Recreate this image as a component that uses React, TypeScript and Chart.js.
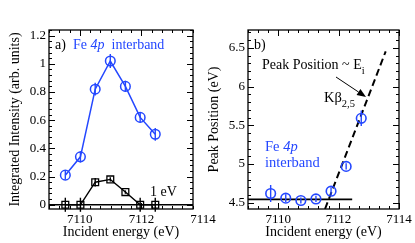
import React, { useEffect, useRef } from 'react';
import { Chart, registerables } from 'chart.js';

Chart.register(...registerables);

const FONT = '"Liberation Serif", "DejaVu Serif", serif';
const BLUE = '#2447ff';

const energyTicks = [7110, 7112, 7114];

// panel a
const intensityEnergy = [7109.53, 7110.02, 7110.5, 7110.99, 7111.48, 7111.96, 7112.45];
const intensityEnergyMax = 7113.675;
const interbandIntensity = [0.21, 0.34, 0.82, 1.02, 0.84, 0.62, 0.5];
const interbandIntensityErr = [0.03, 0.04, 0.045, 0.05, 0.04, 0.035, 0.045];
const oneEvIntensity = [0, 0, 0.16, 0.18, 0.09, 0, 0];
const oneEvIntensityErr = [0.05, 0.05, 0.03, 0.015, 0.012, 0.05, 0.05];
const intensityTicks = [0, 0.2, 0.4, 0.6, 0.8, 1, 1.2];
const zeroLineX = [7109, intensityEnergyMax];
const zeroLineY = [0, 0];

// panel b
const peakEnergy = [7109.75, 7110.25, 7110.75, 7111.25, 7111.75, 7112.25, 7112.75];
const peakPosition = [4.62, 4.56, 4.53, 4.55, 4.65, 4.97, 5.59];
const peakPositionErr = [0.11, 0.05, 0.04, 0.04, 0.05, 0.04, 0.1];
const baselineX = [7109, 7112.45];
const baselineY = [4.545, 4.545];
const dispersionX = [7111.55, 7113.56];
const dispersionY = [4.42, 6.455];
const peakTicks = [4.5, 5, 5.5, 6, 6.5];

const pts = (xs: number[], ys: number[]) => xs.map((x, i) => ({ x, y: ys[i] }));

type Run = { text: string; italic?: boolean; size: number; dy?: number };

function drawRuns(ctx: CanvasRenderingContext2D, runs: Run[], x: number, y: number, color: string) {
  ctx.save();
  ctx.fillStyle = color;
  ctx.textBaseline = 'middle';
  ctx.textAlign = 'left';
  let cx = x;
  for (const r of runs) {
    ctx.font = `${r.italic ? 'italic ' : ''}${r.size}px ${FONT}`;
    ctx.fillText(r.text, cx, y + (r.dy || 0));
    cx += ctx.measureText(r.text).width;
  }
  ctx.restore();
}

type ErrSet = { xs: number[]; ys: number[]; errs: number[]; color: string };

function makeDecor(o: {
  xMajor: number[];
  xMinor: number;
  yMajor: number[];
  yMinor: number;
  errors: ErrSet[];
  extra: (chart: any, ctx: CanvasRenderingContext2D) => void;
}) {
  return {
    id: 'decor',
    afterDatasetsDraw(chart: any) {
      const ctx = chart.ctx as CanvasRenderingContext2D;
      const xs = chart.scales.x;
      const ys = chart.scales.y;
      ctx.save();
      ctx.lineWidth = 1.4;
      for (const e of o.errors) {
        ctx.strokeStyle = e.color;
        e.xs.forEach((x, i) => {
          const px = xs.getPixelForValue(x);
          ctx.beginPath();
          ctx.moveTo(px, ys.getPixelForValue(e.ys[i] - e.errs[i]));
          ctx.lineTo(px, ys.getPixelForValue(e.ys[i] + e.errs[i]));
          ctx.stroke();
        });
      }
      ctx.restore();
    },
    afterDraw(chart: any) {
      const ctx = chart.ctx as CanvasRenderingContext2D;
      const { left, right, top, bottom } = chart.chartArea;
      const xs = chart.scales.x;
      const ys = chart.scales.y;
      ctx.save();
      ctx.strokeStyle = '#000';
      ctx.lineWidth = 1;
      const tickVals = (majors: number[], step: number, min: number, max: number) => {
        const base = majors[0];
        const out: { v: number; major: boolean }[] = [];
        const k0 = Math.ceil((min - base) / step - 1e-6);
        const k1 = Math.floor((max - base) / step + 1e-6);
        for (let k = k0; k <= k1; k++) {
          const v = base + k * step;
          const major = majors.some((m) => Math.abs(m - v) < step * 0.01);
          out.push({ v, major });
        }
        return out;
      };
      for (const t of tickVals(o.xMajor, o.xMinor, xs.min, xs.max)) {
        const px = Math.round(xs.getPixelForValue(t.v)) + 0.5;
        const len = t.major ? 6 : 3;
        ctx.beginPath();
        ctx.moveTo(px, bottom);
        ctx.lineTo(px, bottom - len);
        ctx.moveTo(px, top);
        ctx.lineTo(px, top + len);
        ctx.stroke();
      }
      for (const t of tickVals(o.yMajor, o.yMinor, ys.min, ys.max)) {
        const py = Math.round(ys.getPixelForValue(t.v)) + 0.5;
        const len = t.major ? 6 : 3;
        ctx.beginPath();
        ctx.moveTo(left, py);
        ctx.lineTo(left + len, py);
        ctx.moveTo(right, py);
        ctx.lineTo(right - len, py);
        ctx.stroke();
      }
      ctx.lineWidth = 1.3;
      ctx.strokeRect(left, top, right - left, bottom - top);
      ctx.restore();
      o.extra(chart, ctx);
    },
  };
}

function baseOptions(o: {
  padRight: number;
  yWidth: number;
  xMax: number;
  yMin: number;
  yMax: number;
  yTicks: number[];
  yTitle: string;
  yTitlePad: number;
}) {
  return {
    animation: false,
    responsive: false,
    maintainAspectRatio: false,
    events: [],
    layout: { padding: { top: 30, right: o.padRight, left: 0, bottom: 0 } },
    plugins: { legend: { display: false }, tooltip: { enabled: false } },
    scales: {
      x: {
        type: 'linear',
        min: 7109,
        max: o.xMax,
        grid: { display: false, drawTicks: false },
        border: { display: false },
        afterBuildTicks: (s: any) => {
          s.ticks = energyTicks.map((v) => ({ value: v }));
        },
        afterFit: (s: any) => {
          s.height = 34;
        },
        ticks: {
          callback: (v: any) => String(v),
          font: { family: FONT, size: 13 },
          color: '#000',
          padding: 3,
          maxRotation: 0,
          autoSkip: false,
        },
        title: {
          display: true,
          text: 'Incident energy (eV)',
          font: { family: FONT, size: 14 },
          color: '#000',
          padding: { top: 0, bottom: 2 },
        },
      },
      y: {
        type: 'linear',
        min: o.yMin,
        max: o.yMax,
        grid: { display: false, drawTicks: false },
        border: { display: false },
        afterBuildTicks: (s: any) => {
          s.ticks = o.yTicks.map((v) => ({ value: v }));
        },
        afterFit: (s: any) => {
          s.width = o.yWidth;
        },
        ticks: {
          callback: (v: any) => String(v),
          font: { family: FONT, size: 13 },
          color: '#000',
          padding: 3,
          autoSkip: false,
        },
        title: {
          display: true,
          text: o.yTitle,
          font: { family: FONT, size: 14 },
          color: '#000',
          padding: { top: o.yTitlePad, bottom: 0 },
        },
      },
    },
  };
}

export default function App() {
  const refA = useRef<HTMLCanvasElement>(null);
  const refB = useRef<HTMLCanvasElement>(null);

  useEffect(() => {
    const offA = 0;
    const offB = 205;

    const chartA = new Chart(refA.current as HTMLCanvasElement, {
      type: 'scatter',
      data: {
        datasets: [
          {
            data: pts(intensityEnergy, interbandIntensity),
            showLine: true,
            borderColor: BLUE,
            borderWidth: 1.5,
            pointStyle: 'circle',
            pointRadius: 4.8,
            pointBorderWidth: 1.5,
            pointBackgroundColor: 'rgba(0,0,0,0)',
          },
          {
            data: pts(intensityEnergy, oneEvIntensity),
            showLine: true,
            borderColor: '#000',
            borderWidth: 1.4,
            pointStyle: 'rect',
            pointRadius: 4.8,
            pointBorderWidth: 1.3,
            pointBackgroundColor: 'rgba(0,0,0,0)',
          },
          {
            data: pts(zeroLineX, zeroLineY),
            showLine: true,
            borderColor: '#000',
            borderWidth: 1.5,
            pointRadius: 0,
          },
        ],
      } as any,
      options: baseOptions({
        padRight: 27,
        yWidth: 49,
        xMax: intensityEnergyMax,
        yMin: -0.03,
        yMax: 1.24,
        yTicks: intensityTicks,
        yTitle: 'Integrated Intensity (arb. units)',
        yTitlePad: 6.6,
      }) as any,
      plugins: [
        makeDecor({
          xMajor: energyTicks,
          xMinor: 1 / 3,
          yMajor: intensityTicks,
          yMinor: 0.04,
          errors: [
            { xs: intensityEnergy, ys: interbandIntensity, errs: interbandIntensityErr, color: BLUE },
            { xs: intensityEnergy, ys: oneEvIntensity, errs: oneEvIntensityErr, color: '#000' },
          ],
          extra: (_chart, ctx) => {
            drawRuns(ctx, [{ text: 'a)', size: 14 }], 55 - offA, 45, '#000');
            drawRuns(
              ctx,
              [
                { text: 'Fe ', size: 14 },
                { text: '4p', size: 14, italic: true },
                { text: '  interband', size: 14 },
              ],
              73 - offA,
              45,
              BLUE
            );
            drawRuns(ctx, [{ text: '1 eV', size: 14 }], 150 - offA, 192, '#000');
          },
        }) as any,
      ],
    });

    const chartB = new Chart(refB.current as HTMLCanvasElement, {
      type: 'scatter',
      data: {
        datasets: [
          {
            data: pts(peakEnergy, peakPosition),
            showLine: false,
            borderColor: BLUE,
            pointStyle: 'circle',
            pointRadius: 4.8,
            pointBorderWidth: 1.6,
            pointBackgroundColor: 'rgba(0,0,0,0)',
          },
          {
            data: pts(baselineX, baselineY),
            showLine: true,
            borderColor: '#000',
            borderWidth: 1.8,
            pointRadius: 0,
          },
          {
            data: pts(dispersionX, dispersionY),
            showLine: true,
            borderColor: '#000',
            borderWidth: 2,
            borderDash: [7, 4],
            pointRadius: 0,
          },
        ],
      } as any,
      options: baseOptions({
        padRight: 16,
        yWidth: 43,
        xMax: 7114,
        yMin: 4.42,
        yMax: 6.73,
        yTicks: peakTicks,
        yTitle: 'Peak Position (eV)',
        yTitlePad: 1.1,
      }) as any,
      plugins: [
        makeDecor({
          xMajor: energyTicks,
          xMinor: 1 / 3,
          yMajor: peakTicks,
          yMinor: 0.1,
          errors: [{ xs: peakEnergy, ys: peakPosition, errs: peakPositionErr, color: BLUE }],
          extra: (_chart, ctx) => {
            drawRuns(ctx, [{ text: 'b)', size: 14 }], 254 - offB, 45, '#000');
            drawRuns(
              ctx,
              [
                { text: 'Peak Position ~ E', size: 14 },
                { text: 'i', size: 10.5, dy: 6 },
              ],
              262 - offB,
              65,
              '#000'
            );
            drawRuns(
              ctx,
              [
                { text: 'Kβ', size: 14.5 },
                { text: '2,5', size: 10.5, dy: 6 },
              ],
              324 - offB,
              98,
              '#000'
            );
            drawRuns(
              ctx,
              [
                { text: 'Fe ', size: 14.5 },
                { text: '4p', size: 14.5, italic: true },
              ],
              265 - offB,
              147,
              BLUE
            );
            drawRuns(ctx, [{ text: 'interband', size: 14.5 }], 265 - offB, 163, BLUE);
            // arrow
            const x1 = 336 - offB, y1 = 77, x2 = 366 - offB, y2 = 97;
            const ang = Math.atan2(y2 - y1, x2 - x1);
            const hl = 9, hw = 3.5;
            const bx = x2 - hl * Math.cos(ang), by = y2 - hl * Math.sin(ang);
            ctx.save();
            ctx.strokeStyle = '#000';
            ctx.fillStyle = '#000';
            ctx.lineWidth = 1;
            ctx.beginPath();
            ctx.moveTo(x1, y1);
            ctx.lineTo(bx, by);
            ctx.stroke();
            ctx.beginPath();
            ctx.moveTo(x2, y2);
            ctx.lineTo(bx + hw * Math.sin(ang), by - hw * Math.cos(ang));
            ctx.lineTo(bx - hw * Math.sin(ang), by + hw * Math.cos(ang));
            ctx.closePath();
            ctx.fill();
            ctx.restore();
          },
        }) as any,
      ],
    });

    return () => {
      chartA.destroy();
      chartB.destroy();
    };
  }, []);

  return (
    <div style={{ position: 'absolute', left: 0, top: 0, width: 415, height: 243, background: '#fff' }}>
      <canvas ref={refA} width={220} height={243} style={{ position: 'absolute', left: 0, top: 0 }} />
      <canvas ref={refB} width={210} height={243} style={{ position: 'absolute', left: 205, top: 0 }} />
    </div>
  );
}
